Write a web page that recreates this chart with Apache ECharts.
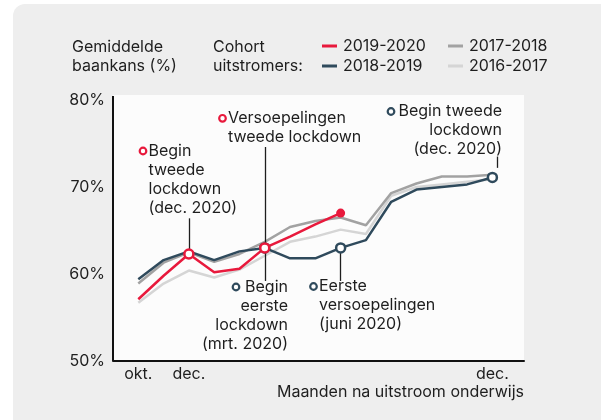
<!DOCTYPE html>
<html>
<head>
<meta charset="utf-8">
<script src="https://cdn.jsdelivr.net/npm/echarts@6/dist/echarts.min.js"></script>
<style>
  html, body { margin: 0; padding: 0; background: #fff; }
  #main { width: 601px; height: 420px; }
</style>
</head>
<body>
<div id="main"></div>
<script>
// maanden na uitstroom: 0 = okt. ... 14 = dec.
var months = [0, 1, 2, 3, 4, 5, 6, 7, 8, 9, 10, 11, 12, 13, 14]
var tickPos = [0, 2, 14]
var tickText = ['okt.', 'dec.', 'dec.']

var c2019 = [57.1, 59.8, 62.3, 60.2, 60.6, 63.0, 64.3, 65.7, 67.0]
var c2018 = [59.4, 61.6, 62.6, 61.6, 62.6, 63.0, 61.8, 61.8, 63.0, 63.9, 68.3, 69.7, 70.0, 70.3, 71.1]
var c2017 = [58.9, 61.3, 62.5, 61.4, 62.3, 63.7, 65.4, 66.1, 66.5, 65.6, 69.3, 70.4, 71.2, 71.2, 71.4]
var c2016 = [56.7, 58.9, 60.4, 59.6, 60.5, 62.1, 63.7, 64.3, 65.1, 64.6, 69.0, 70.0, 70.3, 70.6, 70.9]

var redMarks = [2, 5]
var darkMarks = [5, 8, 14]

var RED = '#e8193c'
var DARK = '#2f4a5c'
var MID = '#a2a2a2'
var LIGHT = '#d5d5d5'
var INK = '#1e1e1e'
var FONT = 'Inter'

var main = document.getElementById('main')
var myChart = echarts.init(main)

function pairs(arr) {
  return arr.map(function (v, i) { return [months[i], v] })
}

function lineSeries(name, arr, color, z) {
  return {
    name: name,
    type: 'line',
    data: pairs(arr),
    symbol: 'none',
    z: z,
    lineStyle: { color: color, width: 2.5 },
    itemStyle: { color: color }
  }
}

function txt(text, x, y, align) {
  return {
    type: 'text', x: x, y: y, z: 10,
    style: {
      text: text, fill: INK, font: '16px ' + FONT,
      align: align || 'left', verticalAlign: 'top', lineHeight: 19
    }
  }
}

function ring(cx, cy, color) {
  return {
    type: 'circle', z: 10,
    shape: { cx: cx, cy: cy, r: 3.3 },
    style: { fill: '#fff', stroke: color, lineWidth: 2.2 }
  }
}

var leader = { symbol: 'none', silent: true, label: { show: false }, lineStyle: { color: INK, width: 1.3, type: 'solid' } }

myChart.setOption({
  animation: false,
  textStyle: { fontFamily: FONT },
  graphic: [
    { type: 'rect', z: -10, shape: { x: 13, y: 4, width: 620, height: 440, r: 12 }, style: { fill: '#eeeeee' } },
    { type: 'rect', z: -9, shape: { x: 113, y: 95, width: 411, height: 266 }, style: { fill: '#fcfcfc' } },
    { type: 'line', z: 5, shape: { x1: 113, y1: 96, x2: 113, y2: 361 }, style: { stroke: '#111', lineWidth: 2 } },
    txt('Gemiddelde\nbaankans (%)', 72, 37.5),
    txt('Cohort\nuitstromers:', 213, 37.5),
    ring(143, 151, RED), txt('Begin\ntweede\nlockdown\n(dec. 2020)', 148.5, 141.5),
    ring(222.5, 118.3, RED), txt('Versoepelingen\ntweede lockdown', 228, 108.5),
    ring(391, 111.5, DARK), txt('Begin tweede\nlockdown\n(dec. 2020)', 502, 101.5, 'right'),
    ring(236, 287, DARK), txt('Begin\neerste\nlockdown\n(mrt. 2020)', 288, 277.5, 'right'),
    ring(313.5, 286.5, DARK), txt('Eerste\nversoepelingen\n(juni 2020)', 319, 277)
  ],
  legend: [{
    data: ['2019-2020', '2018-2019'],
    orient: 'vertical', left: 322, top: 38, padding: 0, itemGap: 4,
    icon: 'rect', itemWidth: 15, itemHeight: 3, selectedMode: false,
    textStyle: { fontFamily: FONT, fontSize: 16, color: INK, lineHeight: 16, padding: [0, 0, 0, 1] }
  }, {
    data: ['2017-2018', '2016-2017'],
    orient: 'vertical', left: 448, top: 38, padding: 0, itemGap: 4,
    icon: 'rect', itemWidth: 15, itemHeight: 3, selectedMode: false,
    textStyle: { fontFamily: FONT, fontSize: 16, color: INK, lineHeight: 16, padding: [0, 0, 0, 1] }
  }],
  grid: { left: 113, right: 77, top: 100, bottom: 59 },
  xAxis: {
    type: 'value', min: -1, max: 15.25, interval: 1,
    name: 'Maanden na uitstroom onderwijs', nameLocation: 'end', nameGap: 0,
    nameTextStyle: { fontFamily: FONT, fontSize: 16, color: INK, align: 'right', verticalAlign: 'top', padding: [23, 0, 0, 0] },
    axisLine: { onZero: false, lineStyle: { color: '#111', width: 2 } },
    axisTick: { show: false },
    splitLine: { show: false },
    axisLabel: {
      margin: 5, fontFamily: FONT, fontSize: 16, color: INK,
      formatter: function (v) {
        var k = tickPos.indexOf(v)
        return k >= 0 ? tickText[k] : ''
      }
    }
  },
  yAxis: {
    type: 'value', min: 50, max: 80, interval: 10,
    axisLine: { show: false, onZero: false },
    axisTick: { show: false },
    splitLine: { show: false },
    axisLabel: { margin: 8, fontFamily: FONT, fontSize: 16, color: INK, formatter: '{value}%' }
  },
  series: [
    {
      name: 'leaders', type: 'scatter', data: [], z: 1,
      markLine: Object.assign({
        data: [
          [{ coord: [2, c2019[2]] }, { coord: [2, 66.4] }],
          [{ coord: [5, c2019[5]] }, { coord: [5, 74.6] }],
          [{ coord: [5, c2018[5]] }, { coord: [5, 59.2] }],
          [{ coord: [8, c2018[8]] }, { coord: [8, 59.2] }],
          [{ coord: [14.2, 72.2] }, { coord: [14.2, 73.5] }]
        ]
      }, leader)
    },
    lineSeries('2016-2017', c2016, LIGHT, 2),
    lineSeries('2017-2018', c2017, MID, 3),
    lineSeries('2018-2019', c2018, DARK, 4),
    lineSeries('2019-2020', c2019, RED, 5),
    {
      type: 'scatter', z: 6, symbolSize: 9,
      data: darkMarks.map(function (i) { return [months[i], c2018[i]] }),
      itemStyle: { color: '#fff', borderColor: DARK, borderWidth: 2.5, opacity: 1 }
    },
    {
      type: 'scatter', z: 7, symbolSize: 9,
      data: redMarks.map(function (i) { return [months[i], c2019[i]] }),
      itemStyle: { color: '#fff', borderColor: RED, borderWidth: 2.5, opacity: 1 }
    },
    {
      type: 'scatter', z: 7, symbolSize: 9,
      data: [[months[c2019.length - 1], c2019[c2019.length - 1]]],
      itemStyle: { color: RED, opacity: 1 }
    }
  ]
})
</script>
</body>
</html>
